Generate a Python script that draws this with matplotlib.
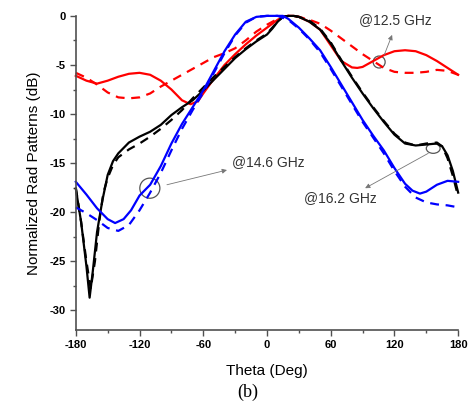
import numpy as np
import matplotlib.pyplot as plt
from matplotlib.patches import Ellipse
from matplotlib.ticker import MultipleLocator

plt.rcParams['font.family'] = ['Liberation Sans', 'DejaVu Sans']
plt.rcParams['axes.unicode_minus'] = False

# 12.5 GHz
th_r1 = [-180, -170, -160, -150, -140, -130, -120, -110, -100, -90, -80, -72, -65, -60, -50, -40, -30,
         -20, -10, 0, 10, 15, 20, 25, 30, 40, 50, 60, 70, 80, 85, 90, 100, 110, 120, 130, 140, 150, 160, 170, 180]
r_solid = [-6.1, -6.6, -6.9, -6.6, -6.2, -5.9, -5.8, -6.0, -6.6, -7.5, -8.6, -9.0, -8.7, -7.9, -6.4, -5.0, -3.9,
           -2.9, -2.0, -1.2, -0.4, -0.1, 0, 0, -0.1, -0.6, -1.4, -3.0, -4.6, -5.25, -5.3, -5.2, -4.6, -4.0, -3.6,
           -3.5, -3.6, -4.0, -4.6, -5.3, -6.0]
th_r2 = [-180, -170, -160, -150, -140, -130, -120, -110, -100, -90, -80, -70, -60, -50, -40, -30, -20, -10,
         0, 10, 20, 30, 40, 50, 60, 70, 80, 90, 100, 110, 120, 130, 140, 150, 160, 170, 180]
r_dash = [-5.8, -6.3, -7.0, -7.8, -8.3, -8.4, -8.3, -7.9, -7.2, -6.6, -6.0, -5.4, -4.8, -4.2, -3.8, -3.3,
          -2.5, -1.6, -0.9, -0.3, 0, -0.1, -0.4, -0.8, -1.5, -2.3, -3.1, -3.9, -4.6, -5.3, -5.7, -5.8, -5.8,
          -5.7, -5.5, -5.6, -6.0]

# 16.2 GHz
th_k1 = [-180, -175, -170, -167, -164, -160, -155, -150, -145, -140, -130, -120, -110, -100, -90, -80, -70,
         -60, -50, -40, -30, -20, -10, 0, 5, 10, 15, 20, 25, 30, 40, 50, 60, 70, 80, 90, 100, 110, 120, 130,
         140, 150, 160, 165, 170, 175, 180]
k_solid = [-17.6, -21.0, -25.5, -28.7, -26.0, -22.0, -18.8, -16.2, -14.8, -14.0, -12.9, -12.3, -11.8, -11.1,
           -10.1, -9.3, -8.6, -7.6, -6.5, -5.4, -4.3, -3.4, -2.6, -1.9, -1.3, -0.6, -0.1, 0, 0, -0.1, -0.6,
           -1.4, -2.8, -4.6, -6.3, -7.9, -9.4, -10.8, -12.1, -13.0, -13.2, -13.1, -13.0, -13.3, -14.2,
           -15.8, -18.0]
th_k2 = [-180, -175, -170, -166, -162, -158, -154, -150, -145, -140, -130, -120, -110, -100, -90, -80, -70,
         -60, -50, -40, -30, -20, -10, 0, 5, 10, 15, 20, 25, 30, 40, 50, 60, 70, 80, 90, 100, 110, 120, 130,
         140, 150, 160, 165, 170, 175, 180]
k_dash = [-17.5, -21.0, -25.0, -27.8, -25.0, -21.0, -18.0, -16.5, -15.2, -14.4, -13.6, -13.0, -12.3, -11.5,
          -10.6, -9.6, -8.4, -7.3, -6.2, -5.2, -4.2, -3.3, -2.5, -1.8, -1.2, -0.6, -0.1, 0, 0, -0.1, -0.5,
          -1.3, -2.7, -4.5, -6.2, -7.8, -9.3, -10.7, -12.0, -12.9, -13.2, -13.0, -12.9, -13.3, -14.5,
          -16.3, -18.4]

# 14.6 GHz
th_b1 = [-180, -170, -160, -150, -143, -135, -128, -120, -110, -100, -90, -80, -70, -60, -50, -40, -30, -20,
         -10, 0, 10, 15, 20, 30, 40, 50, 60, 70, 80, 90, 100, 110, 120, 130, 137, 144, 150, 160, 170, 180]
b_solid = [-16.9, -18.2, -19.6, -20.7, -21.1, -20.7, -19.8, -18.3, -17.2, -15.3, -13.0, -11.0, -9.3, -7.6,
           -5.6, -3.6, -1.9, -0.6, -0.1, 0, 0, 0, -0.3, -1.2, -2.3, -3.5, -5.2, -7.0, -8.8, -10.6, -12.2,
           -13.7, -15.5, -17.1, -17.8, -18.1, -17.9, -17.2, -16.8, -16.9]
th_b2 = [-180, -170, -160, -150, -140, -130, -120, -110, -100, -90, -80, -70, -60, -50, -40, -30, -20, -10,
         0, 10, 20, 30, 40, 50, 60, 70, 80, 90, 100, 110, 120, 130, 140, 150, 160, 170, 180]
b_dash = [-19.5, -20.1, -20.8, -21.6, -21.9, -21.3, -19.8, -18.0, -16.0, -13.7, -11.5, -9.6, -7.8, -5.8,
          -3.8, -2.0, -0.7, -0.1, 0, 0, -0.4, -1.3, -2.4, -3.7, -5.4, -7.2, -9.0, -10.8, -12.4, -14.0,
          -15.8, -17.4, -18.5, -19.0, -19.2, -19.3, -19.5]

xticks = [-180, -120, -60, 0, 60, 120, 180]
yticks = [-30, -25, -20, -15, -10, -5, 0]

fig = plt.figure(figsize=(4.68, 4.07), dpi=100)
ax = fig.add_axes([0.162, 0.189, 0.817, 0.772])

lw = 1.6
ax.plot(th_r1, r_solid, color='red', lw=lw, clip_on=False)
ax.plot(th_r2, r_dash, color='red', lw=lw, dashes=(4, 3), clip_on=False)
ax.plot(th_k1, k_solid, color='black', lw=lw, clip_on=False)
ax.plot(th_k2, k_dash, color='black', lw=lw, dashes=(4, 3), clip_on=False)
ax.plot(th_b1, b_solid, color='blue', lw=lw, clip_on=False)
ax.plot(th_b2, b_dash, color='blue', lw=lw, dashes=(4, 3), clip_on=False)

ax.set_xlim(-180, 180)
ax.set_ylim(-32, 0)
ax.set_xticks(xticks, [str(v) for v in xticks], fontweight='bold')
ax.set_yticks(yticks, [str(v) for v in yticks], fontweight='bold')
ax.xaxis.set_minor_locator(MultipleLocator(30))
ax.yaxis.set_minor_locator(MultipleLocator(2.5))
for s in ['top', 'right']:
    ax.spines[s].set_visible(False)
for s in ['left', 'bottom']:
    ax.spines[s].set_color('#505050')
    ax.spines[s].set_linewidth(1.2)
ax.tick_params(which='major', direction='out', length=4.5, width=1.0, color='#505050',
               labelsize=8, pad=3)
ax.tick_params(which='minor', direction='out', length=2.5, width=1.0, color='#505050')

ax.set_xlabel('Theta (Deg)', fontsize=11, labelpad=10)
ax.set_ylabel('Normalized Rad Patterns (dB)', fontsize=11, labelpad=6)

# annotation circles and arrows
ax.add_patch(Ellipse((-110.3, -17.55), 18.9, 2.05, fill=False, ec='#555555', lw=0.9, clip_on=False))
ax.add_patch(Ellipse((105.6, -4.7), 11.3, 1.22, fill=False, ec='#555555', lw=0.9, clip_on=False))
ax.add_patch(Ellipse((156.5, -13.5), 13.0, 1.0, fill=False, ec='#555555', lw=0.9, clip_on=False))

arrow = dict(arrowstyle='-|>', color='#777777', lw=0.6, mutation_scale=7, shrinkA=0, shrinkB=0)
ax.annotate('', xy=(-37.7, -15.7), xytext=(-94.2, -17.2), arrowprops=arrow)
ax.annotate('', xy=(117.8, -1.94), xytext=(110.3, -4.0), arrowprops=arrow)
ax.annotate('', xy=(92.4, -17.55), xytext=(151.8, -14.0), arrowprops=arrow)

ax.text(-33, -14.9, '@14.6 GHz', fontsize=10, color='#333333', ha='left', va='center')
ax.text(120.7, -0.4, '@12.5 GHz', fontsize=10, color='#333333', ha='center', va='center')
ax.text(68.8, -18.5, '@16.2 GHz', fontsize=10, color='#333333', ha='center', va='center')

fig.text(248 / 468, 1 - 392 / 407, '(b)', fontsize=13, family='Liberation Serif', ha='center', va='center')

fig.savefig('out.png', dpi=100)
